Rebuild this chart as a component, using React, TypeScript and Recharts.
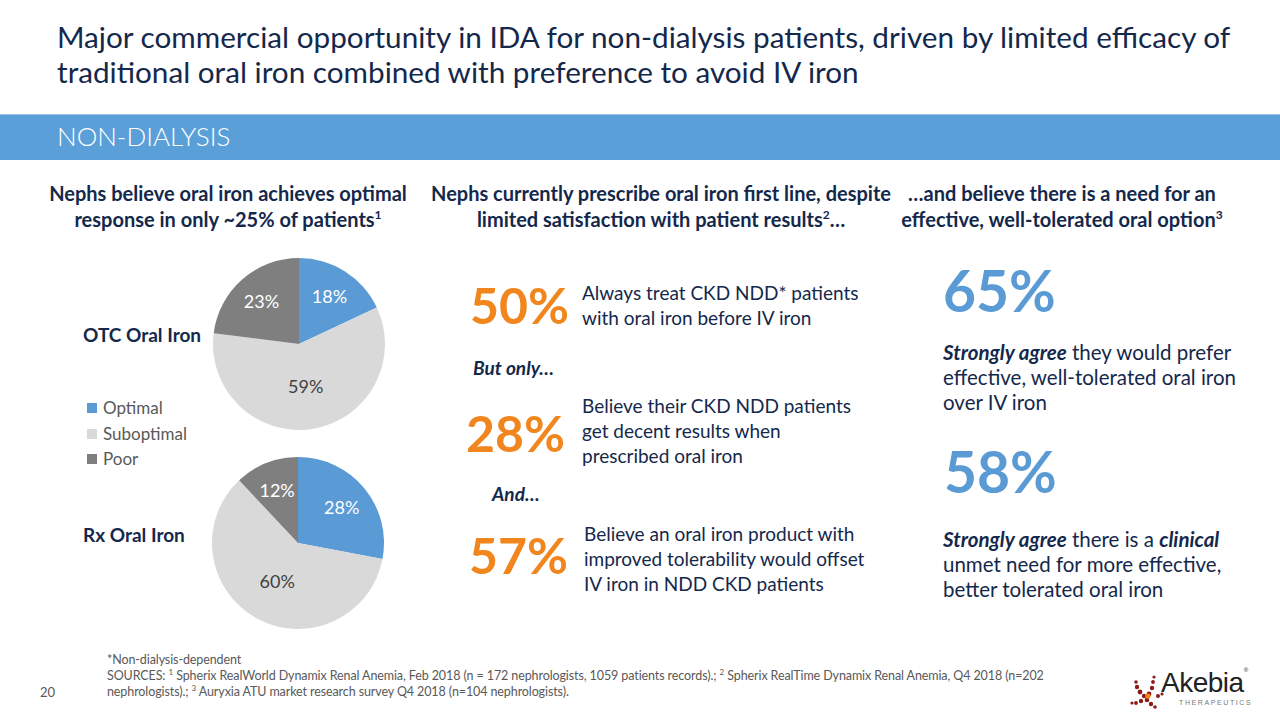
import React from "react";
import { PieChart, Pie, Cell } from "recharts";

// Response categories and shares (percent of patients)
const categories = ["Optimal", "Suboptimal", "Poor"];
const otcValues = [18, 59, 23];
const rxValues = [28, 60, 12];

const sliceColors = ["#5B9BD5", "#D9D9D9", "#7F7F7F"];
const labelColors = ["#FFFFFF", "#404040", "#FFFFFF"];

const FONT = "Lato, 'Open Sans', sans-serif";
const NAVY = "#14284B";
const ORANGE = "#F0861D";
const BLUE = "#5B9BD5";
const GREY = "#595959";
const RADIAN = Math.PI / 180;

function toRows(values: number[]) {
  return categories.map((name, i) => ({ name, value: values[i] }));
}

// big slices get their label nearer the centre, like PowerPoint's best fit
function renderLabel(props: any) {
  const { cx, cy, midAngle, outerRadius, index, value, percent } = props;
  const r = outerRadius * (percent > 0.5 ? 0.5 : 0.66);
  const x = cx + r * Math.cos(-midAngle * RADIAN);
  const y = cy + r * Math.sin(-midAngle * RADIAN);
  return (
    <text
      x={x}
      y={y}
      fill={labelColors[index]}
      textAnchor="middle"
      dominantBaseline="central"
      style={{ fontFamily: FONT, fontSize: 18 }}
    >
      {value}%
    </text>
  );
}

function IronPie({ values, left, top }: { values: number[]; left: number; top: number }) {
  return (
    <div style={{ position: "absolute", left, top }}>
      <PieChart width={200} height={200} margin={{ top: 0, right: 0, bottom: 0, left: 0 }}>
        <Pie
          data={toRows(values)}
          dataKey="value"
          nameKey="name"
          cx={100}
          cy={100}
          outerRadius={86}
          startAngle={90}
          endAngle={-270}
          stroke="none"
          label={renderLabel}
          labelLine={false}
          isAnimationActive={false}
        >
          {values.map((_, i) => (
            <Cell key={i} fill={sliceColors[i]} />
          ))}
        </Pie>
      </PieChart>
    </div>
  );
}

const abs = (left: number, top: number, extra: React.CSSProperties = {}): React.CSSProperties => ({
  position: "absolute",
  left,
  top,
  whiteSpace: "nowrap",
  ...extra,
});

const supStyle: React.CSSProperties = { fontSize: 12, lineHeight: 0 };

function BigNum({ text, left, top, color, size }: { text: string; left: number; top: number; color: string; size: number }) {
  return (
    <div style={abs(left, top, { color, fontSize: size, fontWeight: 700, lineHeight: `${size}px` })}>{text}</div>
  );
}

function Lines({ left, top, size = 19, children }: { left: number; top: number; size?: number; children: React.ReactNode }) {
  return (
    <div style={abs(left, top, { color: NAVY, fontSize: size, lineHeight: "25px" })}>{children}</div>
  );
}

function Logo() {
  const dots = [
    [14, 22, 2.2], [10, 18, 2.4], [7, 13, 2.2], [6, 8, 1.8], [19, 20, 2.4], [22, 14, 2.2], [23, 8, 1.9],
    [24, 3, 1.6], [17, 26, 2.3], [21, 30, 2.2], [25, 33, 1.8], [11, 27, 2.2], [6, 29, 1.9], [2, 29, 1.6],
    [28, 22, 2.0], [32, 20, 1.6],
  ];
  return (
    <div style={{ position: "absolute", left: 1128, top: 670, width: 130, height: 42 }}>
      <svg width={40} height={40} style={{ position: "absolute", left: 0, top: 2 }}>
        {dots.map(([x, y, r], i) => (
          <circle key={i} cx={x + 2} cy={y + 2} r={r} fill="#8B1A1A" />
        ))}
        <circle cx={20} cy={24} r={2.6} fill="#F0861D" />
      </svg>
      <div style={{ position: "absolute", left: 33, top: -3, fontSize: 28, color: "#222", fontFamily: "'Liberation Sans', sans-serif", letterSpacing: -0.5, whiteSpace: "nowrap" }}>
        Akebia<span style={{ fontSize: 6, verticalAlign: "top" }}>®</span>
      </div>
      <div style={{ position: "absolute", left: 51, top: 29, fontSize: 7, color: "#777", letterSpacing: 1.6, fontFamily: "'Liberation Sans', sans-serif" }}>
        THERAPEUTICS
      </div>
    </div>
  );
}

export default function App() {
  return (
    <div
      style={{
        position: "absolute",
        left: 0,
        top: 0,
        width: 1280,
        height: 720,
        background: "#FFFFFF",
        overflow: "hidden",
        fontFamily: FONT,
      }}
    >
      {/* Title */}
      <div style={abs(57, 19, { color: NAVY, fontSize: 29.7, lineHeight: "35px" })}>
        Major commercial opportunity in IDA for non-dialysis patients, driven by limited efficacy of
        <br />
        traditional oral iron combined with preference to avoid IV iron
      </div>

      {/* Section band */}
      <div style={{ position: "absolute", left: 0, top: 114, width: 1280, height: 45, background: "#5B9FD9", borderTop: "1px solid #9CC3EA" }} />
      <div style={abs(57, 119, { color: "#FFFFFF", fontSize: 26, fontWeight: 300, lineHeight: "34px" })}>NON-DIALYSIS</div>

      {/* Column headings */}
      {[
        { cx: 228, l1: "Nephs believe oral iron achieves optimal", l2: <>response in only ~25% of patients<sup style={supStyle}>1</sup></> },
        { cx: 661, l1: "Nephs currently prescribe oral iron first line, despite", l2: <>limited satisfaction with patient results<sup style={supStyle}>2</sup>…</> },
        { cx: 1062, l1: "…and believe there is a need for an", l2: <>effective, well-tolerated oral option<sup style={supStyle}>3</sup></> },
      ].map((h, i) => (
        <div
          key={i}
          style={{
            position: "absolute",
            left: h.cx - 250,
            top: 180,
            width: 500,
            textAlign: "center",
            color: NAVY,
            fontSize: 20,
            fontWeight: 700,
            lineHeight: "26px",
          }}
        >
          {h.l1}
          <br />
          {h.l2}
        </div>
      ))}

      {/* Pies */}
      <div style={abs(83, 322, { color: NAVY, fontSize: 19, fontWeight: 700, lineHeight: "26px" })}>OTC Oral Iron</div>
      <IronPie values={otcValues} left={199} top={244} />
      <div style={abs(83, 522, { color: NAVY, fontSize: 19, fontWeight: 700, lineHeight: "26px" })}>Rx Oral Iron</div>
      <IronPie values={rxValues} left={198} top={443} />

      {/* Legend */}
      {categories.map((c, i) => (
        <div key={c} style={abs(87, 396 + i * 25.5, { display: "flex", alignItems: "center", color: GREY, fontSize: 17, lineHeight: "24px" })}>
          <span style={{ display: "inline-block", width: 10, height: 10, background: sliceColors[i], marginRight: 6 }} />
          {c}
        </div>
      ))}

      {/* Middle column */}
      <BigNum text="50%" left={470} top={280} color={ORANGE} size={50} />
      <Lines left={582} top={280}>
        Always treat CKD NDD* patients
        <br />
        with oral iron before IV iron
      </Lines>
      <div style={abs(473, 355, { color: NAVY, fontSize: 19, fontWeight: 700, fontStyle: "italic", lineHeight: "26px" })}>But only…</div>
      <BigNum text="28%" left={466} top={408} color={ORANGE} size={50} />
      <Lines left={582} top={393}>
        Believe their CKD NDD patients
        <br />
        get decent results when
        <br />
        prescribed oral iron
      </Lines>
      <div style={abs(492, 481, { color: NAVY, fontSize: 19, fontWeight: 700, fontStyle: "italic", lineHeight: "26px" })}>And…</div>
      <BigNum text="57%" left={469} top={530} color={ORANGE} size={50} />
      <Lines left={584} top={521}>
        Believe an oral iron product with
        <br />
        improved tolerability would offset
        <br />
        IV iron in NDD CKD patients
      </Lines>

      {/* Right column */}
      <BigNum text="65%" left={943} top={262} color={BLUE} size={57} />
      <Lines left={943} top={340} size={20.5}>
        <b><i>Strongly agree</i></b> they would prefer
        <br />
        effective, well-tolerated oral iron
        <br />
        over IV iron
      </Lines>
      <BigNum text="58%" left={944} top={443} color={BLUE} size={57} />
      <Lines left={943} top={527} size={20.5}>
        <b><i>Strongly agree</i></b> there is a <b><i>clinical</i></b>
        <br />
        unmet need for more effective,
        <br />
        better tolerated oral iron
      </Lines>

      {/* Footnotes */}
      <div style={abs(107, 652, { color: GREY, fontSize: 12.5, lineHeight: "16px", letterSpacing: -0.1 })}>
        *Non-dialysis-dependent
        <br />
        SOURCES: <sup style={{ fontSize: 8, lineHeight: 0 }}>1</sup> Spherix RealWorld Dynamix Renal Anemia, Feb 2018 (n = 172 nephrologists, 1059 patients records).;{" "}
        <sup style={{ fontSize: 8, lineHeight: 0 }}>2</sup> Spherix RealTime Dynamix Renal Anemia, Q4 2018 (n=202
        <br />
        nephrologists).; <sup style={{ fontSize: 8, lineHeight: 0 }}>3</sup> Auryxia ATU market research survey Q4 2018 (n=104 nephrologists).
      </div>
      <div style={abs(40, 684, { color: GREY, fontSize: 13, lineHeight: "16px" })}>20</div>
      <Logo />
    </div>
  );
}
